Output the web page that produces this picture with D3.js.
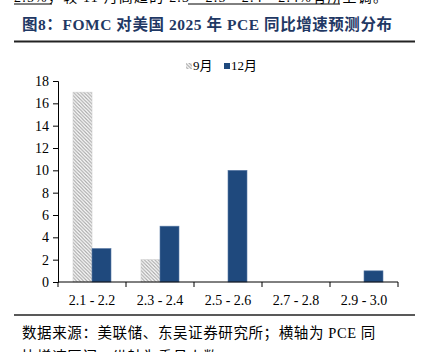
<!DOCTYPE html>
<html><head><meta charset="utf-8">
<script src="https://cdn.jsdelivr.net/npm/d3@7"></script>
<style>body{margin:0;background:#fff}svg{display:block}</style>
</head><body>
<script>
const categories = ["2.1 - 2.2","2.3 - 2.4","2.5 - 2.6","2.7 - 2.8","2.9 - 3.0"];
const seriesNames = ["9月","12月"];
const sepValues = [17,2,0,0,0];
const decValues = [3,5,10,0,1];
const yTicks = [0,2,4,6,8,10,12,14,16,18];

const W=425,H=352;
const svg=d3.select("body").append("svg").attr("width",W).attr("height",H);
const defs=svg.append("defs");
const pat=defs.append("pattern").attr("id","hatch").attr("patternUnits","userSpaceOnUse")
  .attr("width",3.5).attr("height",3.5);
pat.append("rect").attr("width",3.5).attr("height",3.5).attr("fill","#fff");
pat.append("path").attr("d","M-1,-1 L4.5,4.5 M-1,2.5 L1,4.5 M2.5,-1 L4.5,1").attr("stroke","#a8a8a8").attr("stroke-width",1.2);

const navy="#1f3864", blue="#1f497d";
const serif="'Liberation Serif','Times New Roman','Noto Sans CJK SC',serif";
const cjk="'Liberation Serif','Noto Sans CJK SC',serif";

// cut-off previous paragraph line
svg.append("text").attr("x",14).attr("y",1.5).attr("font-family",cjk).attr("font-size",14).attr("fill","#000")
  .attr("letter-spacing",1.2)
  .text("2.5%，较 11 月高趋的 2.3 - 2.5 - 2.4 - 2.4%有所上调。");
svg.append("line").attr("x1",14).attr("x2",52).attr("y1",4).attr("y2",4).attr("stroke","#000").attr("stroke-width",1);
svg.append("line").attr("x1",188).attr("x2",340).attr("y1",4).attr("y2",4).attr("stroke","#000").attr("stroke-width",1);

// title
svg.append("text").attr("x",22).attr("y",30).attr("font-family",cjk).attr("font-weight","bold")
  .attr("font-size",15.5).attr("letter-spacing",0.55).attr("fill",navy).text("图8：FOMC 对美国 2025 年 PCE 同比增速预测分布");
svg.append("line").attr("x1",14).attr("x2",415).attr("y1",41.5).attr("y2",41.5).attr("stroke","#222").attr("stroke-width",2);

// chart
const x0=d3.scaleBand().domain(categories).range([58,398]).paddingInner(0).paddingOuter(0);
const x1=d3.scaleBand().domain(seriesNames).range([0,x0.bandwidth()]).paddingInner(0).paddingOuter(0.79);
const y=d3.scaleLinear().domain([0,18]).range([282,81]);

const g=svg.append("g");
const data=categories.map((c,i)=>({c,vals:[{s:"9月",v:sepValues[i]},{s:"12月",v:decValues[i]}]}));
g.selectAll("g.cat").data(data).enter().append("g").attr("transform",d=>`translate(${x0(d.c)},0)`)
  .selectAll("rect").data(d=>d.vals.filter(e=>e.v>0)).enter().append("rect")
  .attr("x",d=>x1(d.s)).attr("width",x1.bandwidth())
  .attr("y",d=>y(d.v)).attr("height",d=>y(0)-y(d.v))
  .attr("fill",d=>d.s==="9月"?"url(#hatch)":blue)
  .attr("stroke",d=>d.s==="9月"?"#d0d0d0":"#5a7aa6").attr("stroke-width",0.6);

// y axis
const ya=svg.append("g").attr("transform","translate(58,0)")
  .call(d3.axisLeft(y).tickValues(yTicks).tickSize(5).tickPadding(4));
ya.select(".domain").attr("stroke","#000");
ya.selectAll("line").attr("stroke","#000");
ya.selectAll("text").attr("font-family",serif).attr("font-size",14).attr("fill","#000");

// x axis
const xa=svg.append("g").attr("transform","translate(0,282)");
xa.append("line").attr("x1",58).attr("x2",398).attr("y1",0).attr("y2",0).attr("stroke","#000");
const bounds=categories.map(c=>x0(c)).concat([x0(categories[4])+x0.bandwidth()]);
xa.selectAll("line.t").data(bounds).enter().append("line").attr("x1",d=>d).attr("x2",d=>d)
  .attr("y1",0).attr("y2",5).attr("stroke","#000");
xa.selectAll("text").data(categories).enter().append("text")
  .attr("x",d=>x0(d)+x0.bandwidth()/2).attr("y",23).attr("text-anchor","middle")
  .attr("font-family",serif).attr("font-size",14).attr("fill","#000").text(d=>d);

// legend
const lg=svg.append("g");
lg.append("rect").attr("x",186).attr("y",63).attr("width",6).attr("height",6).attr("fill","url(#hatch)");
lg.append("text").attr("x",193).attr("y",70).attr("font-family",cjk).attr("font-size",13).text("9月");
lg.append("rect").attr("x",224).attr("y",63).attr("width",6).attr("height",6).attr("fill",blue);
lg.append("text").attr("x",231).attr("y",70).attr("font-family",cjk).attr("font-size",13).text("12月");

// footer
svg.append("line").attr("x1",14).attr("x2",415).attr("y1",315).attr("y2",315).attr("stroke","#222").attr("stroke-width",1.5);
svg.append("text").attr("x",22).attr("y",338).attr("font-family",cjk).attr("font-size",14.5).attr("letter-spacing",0.6).attr("fill","#000")
  .text("数据来源：美联储、东吴证券研究所；横轴为 PCE 同");
svg.append("text").attr("x",22).attr("y",362).attr("font-family",cjk).attr("font-size",14.5).attr("letter-spacing",0.6).attr("fill","#000")
  .text("比增速区间，纵轴为委员人数。");
</script>
</body></html>
